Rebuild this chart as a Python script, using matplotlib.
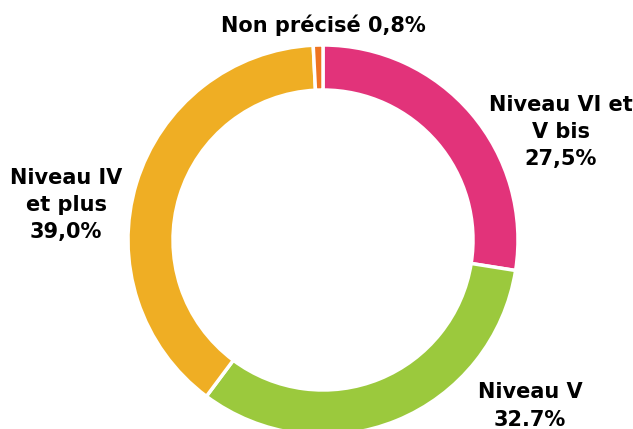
import matplotlib.pyplot as plt

categories = ["Niveau VI et\nV bis", "Niveau V", "Niveau IV\net plus", "Non précisé"]
values = [27.5, 32.7, 39.0, 0.8]
value_labels = ["27,5%", "32.7%", "39,0%", "0,8%"]
colors = ["#E2337A", "#9BC93D", "#EFAE24", "#EE7421"]

W, H = 633, 429
fig = plt.figure(figsize=(W / 100, H / 100), dpi=100)
ax = fig.add_axes([0, 0, 1, 1])

cx, cy, r = 323, H - 240, 195
ax.pie(
    values,
    colors=colors,
    startangle=90,
    counterclock=False,
    center=(cx, cy),
    radius=r,
    wedgeprops=dict(width=45, edgecolor="white", linewidth=2.5),
)
ax.set_xlim(0, W)
ax.set_ylim(0, H)
ax.set_aspect("equal")
ax.axis("off")

font = dict(fontsize=15, fontweight="bold", family="DejaVu Sans", color="black",
            ha="center", va="center", linespacing=1.45)

# label positions in pixels (x, y from top)
label_pos = [(561, 132), (530, 406), (66, 205), (323, 25)]
for name, val, (x, y) in zip(categories, value_labels, label_pos):
    if name == "Non précisé":
        txt = f"{name} {val}"
    else:
        txt = f"{name}\n{val}"
    ax.text(x, H - y, txt, **font)

fig.savefig("out.png", dpi=100)
